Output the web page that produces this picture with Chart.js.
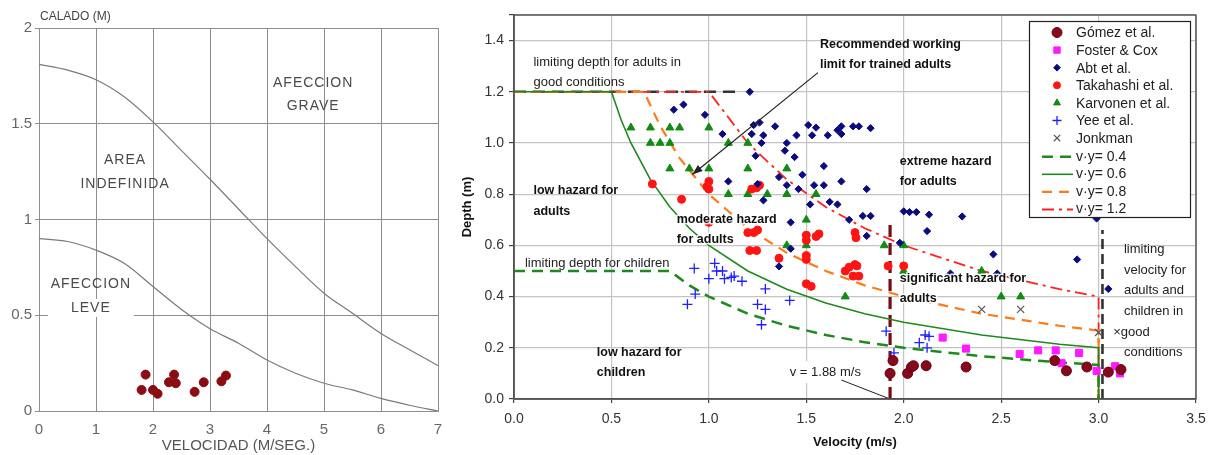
<!DOCTYPE html>
<html>
<head>
<meta charset="utf-8">
<script src="https://cdn.jsdelivr.net/npm/chart.js@4.4.0/dist/chart.umd.min.js"></script>
<style>
  html, body { margin: 0; padding: 0; background: #fff; }
  #wrap { position: relative; width: 1216px; height: 455px; }
  #left-chart { position: absolute; left: 0; top: 0; }
  #right-chart { position: absolute; left: 460px; top: 0; }
</style>
</head>
<body>
<div id="wrap">
  <canvas id="left-chart" width="455" height="455"></canvas>
  <canvas id="right-chart" width="756" height="455"></canvas>
</div>
<script>
// ---- left chart: calado / velocidad ----
const leftVelocity = [0, 0.5, 1, 1.5, 2, 2.5, 3, 3.5, 4, 4.5, 5, 5.5, 6, 6.5, 7];
const severeDepth = [1.81, 1.78, 1.73, 1.64, 1.51, 1.36, 1.21, 1.055, 0.90, 0.754, 0.615, 0.51, 0.405, 0.32, 0.237];
const mildDepth = [0.90, 0.885, 0.84, 0.77, 0.65, 0.53, 0.43, 0.354, 0.266, 0.197, 0.145, 0.11, 0.066, 0.03, 0.0];
const leftDotsV = [1.80, 1.87, 2.00, 2.08, 2.28, 2.37, 2.40, 2.73, 2.89, 3.20, 3.28];
const leftDotsD = [0.11, 0.19, 0.11, 0.09, 0.15, 0.19, 0.145, 0.10, 0.15, 0.155, 0.185];

// ---- right chart: depth / velocity ----
const gomez = [[1.93,0.10],[1.945,0.15],[2.02,0.10],[2.04,0.125],[2.05,0.13],[2.115,0.13],[2.32,0.125],
  [2.775,0.15],[2.835,0.11],[2.94,0.125],[3.05,0.105],[3.115,0.115]];
const fosterCox = [[2.20,0.24],[2.32,0.197],[2.595,0.176],[2.69,0.19],[2.78,0.19],[2.90,0.18],[2.81,0.14],
  [2.99,0.11],[3.085,0.128],[3.11,0.10]];
const abt = [[0.82,1.13],[0.87,1.15],[0.98,1.11],[1.07,1.035],[1.21,1.20],[1.22,1.035],[1.23,1.07],[1.26,1.08],
  [1.27,1.0],[1.28,1.03],[1.24,0.95],[1.34,1.065],[1.40,1.0],[1.39,0.97],[1.44,0.945],[1.45,1.03],[1.51,1.07],
  [1.53,1.03],[1.55,1.06],[1.61,1.03],[1.66,1.05],[1.68,1.065],[1.68,1.035],[1.74,1.065],[1.77,1.065],[1.83,1.058],
  [1.59,0.91],[1.36,0.867],[1.48,0.876],[1.40,0.835],[1.46,0.82],[1.54,0.835],[1.59,0.835],[1.68,0.85],[1.81,0.82],
  [1.10,0.85],[1.25,0.84],[1.28,0.776],[1.52,0.76],[1.62,0.77],[1.66,0.76],[1.42,0.69],[1.72,0.70],[1.79,0.715],
  [1.83,0.715],[2.00,0.733],[2.03,0.73],[2.065,0.73],[2.13,0.72],[2.30,0.713],[2.99,0.705],[2.12,0.656],[1.81,0.637],
  [1.98,0.61],[1.42,0.587],[1.36,0.518],[2.46,0.565],[2.89,0.545],[2.24,0.49],[2.48,0.49],[3.05,0.43]];
const takahashi = [[0.71,0.84],[0.86,0.78],[1.0,0.85],[0.99,0.83],[1.0,0.82],[1.22,0.82],[1.245,0.825],[1.26,0.835],
  [1.0,0.69],[1.20,0.65],[1.23,0.65],[1.25,0.66],[1.21,0.58],[1.245,0.58],[1.5,0.64],[1.5,0.62],[1.55,0.635],
  [1.565,0.645],[1.5,0.56],[1.5,0.545],[1.36,0.55],[1.5,0.45],[1.525,0.44],[1.70,0.50],[1.72,0.515],[1.75,0.525],
  [1.76,0.52],[1.74,0.48],[1.77,0.48],[1.92,0.52],[2.0,0.52],[1.75,0.65],[1.755,0.63]];
const karvonen = [[0.6,1.06],[0.7,1.06],[0.8,1.06],[0.85,1.06],[1.0,1.06],[0.7,1.0],[0.75,1.0],[0.8,1.0],[1.1,1.0],
  [1.2,1.0],[0.8,0.9],[0.9,0.9],[1.0,0.9],[1.2,0.9],[1.4,0.9],[1.1,0.8],[1.2,0.8],[1.3,0.8],[1.4,0.8],[1.55,0.8],
  [1.5,0.7],[1.4,0.6],[1.5,0.6],[1.7,0.4],[1.9,0.6],[2.0,0.6],[2.0,0.5],[2.4,0.5],[2.5,0.4],[2.6,0.4]];
const yee = [[0.89,0.37],[0.925,0.51],[0.93,0.41],[1.0,0.47],[1.03,0.53],[1.04,0.50],[1.07,0.50],[1.08,0.47],
  [1.115,0.475],[1.13,0.48],[1.17,0.46],[1.25,0.37],[1.29,0.43],[1.29,0.35],[1.27,0.29],[1.415,0.385],
  [1.91,0.265],[1.95,0.18],[2.08,0.22],[2.11,0.25],[2.13,0.245],[2.12,0.20]];
const jonkman = [[2.4,0.35],[2.6,0.35],[3.0,0.26]];

// hazard curves v*y = const
const vy04 = [[0,0.5],[0.8,0.5],[0.9,0.444],[1.0,0.4],[1.2,0.333],[1.4,0.286],[1.6,0.25],[1.8,0.222],[2.0,0.2],
  [2.4,0.167],[2.8,0.143],[3.0,0.133],[3.0,0]];
const vy06 = [[0,1.2],[0.5,1.2],[0.55,1.09],[0.6,1.0],[0.7,0.857],[0.8,0.75],[0.9,0.667],[1.0,0.6],[1.2,0.5],
  [1.4,0.429],[1.6,0.375],[1.8,0.333],[2.0,0.3],[2.4,0.25],[2.8,0.214],[3.0,0.2],[3.0,0]];
const vy08 = [[0,1.2],[0.667,1.2],[0.75,1.067],[0.85,0.941],[1.0,0.8],[1.2,0.667],[1.4,0.571],[1.6,0.5],
  [1.8,0.444],[2.0,0.4],[2.4,0.333],[2.8,0.286],[3.0,0.267],[3.0,0]];
const vy12 = [[0,1.2],[1.0,1.2],[1.2,1.0],[1.4,0.857],[1.6,0.75],[1.8,0.667],[2.0,0.6],[2.4,0.5],[2.8,0.429],
  [3.0,0.4],[3.0,0]];
const adultDepthLimit = [[0,1.2],[1.15,1.2]];
const gomezVelLine = [[1.93,0],[1.93,0.68]];
const adultVelLimit = [[3.02,0],[3.02,0.66]];

function pts(list) {
    return list.map(p => ({ x: p[0], y: p[1] }));
}

// text notes placed in data units
const leftNotes = [
    { text: 'AFECCION', v: 4.81, d: 1.714 },
    { text: 'GRAVE', v: 4.81, d: 1.594 },
    { text: 'AREA', v: 1.51, d: 1.31 },
    { text: 'INDEFINIDA', v: 1.51, d: 1.186 },
    { text: 'AFECCION', v: 0.91, d: 0.664 },
    { text: 'LEVE', v: 0.91, d: 0.538, bg: 86 }
];

const rightNotes = [
    { text: 'limiting depth for adults in', v: 0.1, d: 1.315 },
    { text: 'good conditions', v: 0.1, d: 1.235 },
    { text: 'Recommended working', v: 1.57, d: 1.384, bold: true },
    { text: 'limit for trained adults', v: 1.57, d: 1.306, bold: true },
    { text: 'low hazard for', v: 0.1, d: 0.815, bold: true },
    { text: 'adults', v: 0.1, d: 0.733, bold: true },
    { text: 'moderate hazard', v: 0.835, d: 0.702, bold: true, halo: true },
    { text: 'for adults', v: 0.835, d: 0.624, bold: true, halo: true },
    { text: 'extreme hazard', v: 1.98, d: 0.928, bold: true },
    { text: 'for adults', v: 1.98, d: 0.85, bold: true },
    { text: 'limiting depth for children', v: 0.056, d: 0.53 },
    { text: 'significant hazard for', v: 1.98, d: 0.472, bold: true, halo: true },
    { text: 'adults', v: 1.98, d: 0.394, bold: true, halo: true },
    { text: 'low hazard for', v: 0.425, d: 0.183, bold: true },
    { text: 'children', v: 0.425, d: 0.105, bold: true },
    { text: 'v = 1.88 m/s', v: 1.415, d: 0.105, bg: true },
    { text: 'limiting', v: 3.13, d: 0.585 },
    { text: 'velocity for', v: 3.13, d: 0.503 },
    { text: 'adults and', v: 3.13, d: 0.425 },
    { text: 'children in', v: 3.13, d: 0.343 },
    { text: '\u00d7good', v: 3.075, d: 0.261 },
    { text: 'conditions', v: 3.13, d: 0.18 }
];

const arrowFrom = [1.56, 1.275];
const arrowTo = [0.915, 0.877];
const pointerFrom = [1.68, 0.074];
const pointerTo = [1.93, 0.0];

const FONT = '"Liberation Sans", Arial, sans-serif';

const leftNotesPlugin = {
    id: 'leftNotes',
    afterDraw(chart) {
        const ctx = chart.ctx;
        const xs = chart.scales.x, ys = chart.scales.y;
        ctx.save();
        ctx.font = '12px ' + FONT;
        ctx.fillStyle = '#444';
        ctx.textBaseline = 'middle';
        ctx.fillText('CALADO (M)', 40, 17);
        ctx.font = '14px ' + FONT;
        ctx.letterSpacing = '1px';
        ctx.textAlign = 'center';
        leftNotes.forEach(n => {
            const x = xs.getPixelForValue(n.v), y = ys.getPixelForValue(n.d);
            if (n.bg) {
                ctx.fillStyle = '#fff';
                ctx.fillRect(x - n.bg / 2, y - 9, n.bg, 18);
            }
            ctx.fillStyle = '#4a4a4a';
            ctx.fillText(n.text, x, y);
        });
        ctx.restore();
    }
};

new Chart(document.getElementById('left-chart'), {
    type: 'scatter',
    data: {
        datasets: [
            {
                data: leftDotsV.map((v, i) => ({ x: v, y: leftDotsD[i] })),
                backgroundColor: '#8b0d14',
                borderColor: '#8b0d14',
                pointRadius: 4.5
            },
            {
                data: leftVelocity.map((v, i) => ({ x: v, y: severeDepth[i] })),
                showLine: true,
                cubicInterpolationMode: 'monotone',
                borderColor: '#7a7a7a',
                borderWidth: 1.2,
                pointRadius: 0
            },
            {
                data: leftVelocity.map((v, i) => ({ x: v, y: mildDepth[i] })),
                showLine: true,
                cubicInterpolationMode: 'monotone',
                borderColor: '#7a7a7a',
                borderWidth: 1.2,
                pointRadius: 0
            }
        ]
    },
    options: {
        responsive: false,
        animation: false,
        layout: { padding: { top: 28, right: 17, left: 0, bottom: 0 } },
        plugins: { legend: { display: false }, tooltip: { enabled: false } },
        scales: {
            x: {
                type: 'linear', min: 0, max: 7,
                afterFit: s => { s.height = 44; },
                ticks: { stepSize: 1, color: '#666', font: { family: FONT, size: 15 }, padding: 10 },
                grid: { color: '#8e8e8e', lineWidth: 1, drawTicks: false },
                border: { color: '#8e8e8e' },
                title: { display: true, text: 'VELOCIDAD (M/SEG.)', color: '#555',
                         font: { family: FONT, size: 15 }, padding: { top: 0, bottom: 0 } }
            },
            y: {
                min: 0, max: 2,
                afterFit: s => { s.width = 39; },
                ticks: { stepSize: 0.5, color: '#666', font: { family: FONT, size: 15 }, padding: 3,
                         callback: v => String(v) },
                grid: { color: '#8e8e8e', lineWidth: 1, tickLength: 4 },
                border: { color: '#8e8e8e' }
            }
        }
    },
    plugins: [leftNotesPlugin]
});

// ---- right chart plugins ----
const frameNotes = {
    id: 'frameNotes',
    afterDatasetsDraw(chart) {
        const ctx = chart.ctx;
        const xs = chart.scales.x, ys = chart.scales.y;
        const a = chart.chartArea;
        ctx.save();
        // arrow to the recommended working limit
        const x1 = xs.getPixelForValue(arrowFrom[0]), y1 = ys.getPixelForValue(arrowFrom[1]);
        const x2 = xs.getPixelForValue(arrowTo[0]), y2 = ys.getPixelForValue(arrowTo[1]);
        ctx.strokeStyle = '#222';
        ctx.fillStyle = '#222';
        ctx.lineWidth = 1.2;
        ctx.beginPath(); ctx.moveTo(x1, y1); ctx.lineTo(x2, y2); ctx.stroke();
        const ang = Math.atan2(y2 - y1, x2 - x1);
        ctx.beginPath();
        ctx.moveTo(x2, y2);
        ctx.lineTo(x2 - 11 * Math.cos(ang - 0.35), y2 - 11 * Math.sin(ang - 0.35));
        ctx.lineTo(x2 - 11 * Math.cos(ang + 0.35), y2 - 11 * Math.sin(ang + 0.35));
        ctx.closePath(); ctx.fill();
        // text
        ctx.textBaseline = 'middle';
        ctx.textAlign = 'left';
        rightNotes.forEach(n => {
            const x = xs.getPixelForValue(n.v), y = ys.getPixelForValue(n.d);
            ctx.font = (n.bold ? 'bold 12.5px ' : '13px ') + FONT;
            if (n.bg) {
                const w = ctx.measureText(n.text).width;
                ctx.fillStyle = '#fff';
                ctx.fillRect(x - 5, y - 11, w + 10, 22);
            }
            if (n.halo) {
                ctx.strokeStyle = 'rgba(255,255,255,0.85)';
                ctx.lineWidth = 3;
                ctx.lineJoin = 'round';
                ctx.strokeText(n.text, x, y);
            }
            ctx.fillStyle = n.bold ? '#111' : '#222';
            ctx.fillText(n.text, x, y);
        });
        // pointer from the velocity label
        ctx.strokeStyle = '#222';
        ctx.lineWidth = 1;
        ctx.beginPath();
        ctx.moveTo(xs.getPixelForValue(pointerFrom[0]), ys.getPixelForValue(pointerFrom[1]));
        ctx.lineTo(xs.getPixelForValue(pointerTo[0]), ys.getPixelForValue(pointerTo[1]));
        ctx.stroke();
        // frame
        ctx.strokeStyle = '#555';
        ctx.lineWidth = 1.5;
        ctx.strokeRect(a.left, a.top, a.right - a.left, a.bottom - a.top);
        ctx.restore();
    }
};

const boxLegend = {
    id: 'boxLegend',
    afterDraw(chart) {
        const ctx = chart.ctx;
        const left = 569, top = 21, width = 161, height = 196;
        ctx.save();
        ctx.fillStyle = '#fff';
        ctx.fillRect(left, top, width, height);
        ctx.strokeStyle = '#222';
        ctx.lineWidth = 1.2;
        ctx.strokeRect(left + 0.5, top + 0.5, width, height);
        ctx.font = '14px ' + FONT;
        ctx.textBaseline = 'middle';
        let y = top + 11.5;
        chart.data.datasets.forEach(ds => {
            if (!ds.label) return;
            if (ds.showLine) {
                ctx.strokeStyle = ds.borderColor;
                ctx.lineWidth = ds.borderWidth;
                ctx.setLineDash(ds.borderDash || []);
                ctx.beginPath();
                ctx.moveTo(left + 13, y + 1);
                ctx.lineTo(left + 44, y + 1);
                ctx.stroke();
                ctx.setLineDash([]);
            } else {
                ctx.fillStyle = ds.backgroundColor;
                ctx.strokeStyle = ds.borderColor;
                ctx.lineWidth = ds.borderWidth || 1;
                Chart.helpers.drawPoint(ctx, {
                    pointStyle: ds.pointStyle, rotation: 0,
                    radius: ds.legendRadius, borderWidth: ds.borderWidth || 1
                }, left + 28, y);
            }
            ctx.fillStyle = '#222';
            ctx.fillText(ds.label, left + 47, y + 1);
            y += 17.6;
        });
        ctx.restore();
    }
};

function pointSet(label, list, style, color, edge, radius, legendRadius, width) {
    return {
        label, data: pts(list), pointStyle: style,
        backgroundColor: color, borderColor: edge, pointRadius: radius,
        borderWidth: width || 1, legendRadius
    };
}

function lineSet(label, list, color, width, dash) {
    return {
        label, data: pts(list), showLine: true, pointRadius: 0,
        borderColor: color, borderWidth: width, borderDash: dash, tension: 0
    };
}

new Chart(document.getElementById('right-chart'), {
    type: 'scatter',
    data: {
        datasets: [
            pointSet('Gómez et al.', gomez, 'circle', '#840a1c', '#6a0014', 5, 5),
            pointSet('Foster & Cox', fosterCox, 'rect', '#ff1aff', '#ff1aff', 5, 4.5),
            pointSet('Abt et al.', abt, 'rectRot', '#0b0b7d', '#0b0b7d', 3.6, 3.4),
            pointSet('Takahashi et al.', takahashi, 'circle', '#ff1414', '#ff1414', 4, 3.5),
            pointSet('Karvonen et al.', karvonen, 'triangle', '#138a13', '#138a13', 4.6, 4),
            pointSet('Yee et al.', yee, 'cross', '#2020ff', '#2020ff', 5, 4.5, 1.3),
            pointSet('Jonkman', jonkman, 'crossRot', '#555', '#555', 5, 4.5, 1.2),
            lineSet('v\u00b7y= 0.4', vy04, '#1e8a1e', 2.5, [11, 7]),
            lineSet('v\u00b7y= 0.6', vy06, '#1e8a1e', 1.6, []),
            lineSet('v\u00b7y= 0.8', vy08, '#ff7a1a', 2.2, [10, 7]),
            lineSet('v\u00b7y= 1.2', vy12, '#ff2020', 1.8, [12, 5, 3, 5]),
            lineSet('', adultDepthLimit, '#333', 2.5, [12, 7]),
            lineSet('', gomezVelLine, '#7a0a14', 3.2, [12, 6]),
            lineSet('', adultVelLimit, '#333', 2.6, [10, 5])
        ]
    },
    options: {
        responsive: false,
        animation: false,
        layout: { padding: { top: 15, right: 20, left: 0, bottom: 0 } },
        plugins: { legend: { display: false }, tooltip: { enabled: false } },
        scales: {
            x: {
                type: 'linear', min: 0, max: 3.5,
                afterFit: s => { s.height = 56; },
                ticks: { stepSize: 0.5, color: '#333', font: { family: FONT, size: 14 }, padding: 8,
                         callback: v => v.toFixed(1) },
                grid: { color: '#c4c4c4', lineWidth: 1.2, tickLength: 4, tickColor: '#444' },
                border: { color: '#444', width: 1.5 },
                title: { display: true, text: 'Velocity (m/s)', color: '#111',
                         font: { family: FONT, size: 13, weight: 'bold' }, padding: { top: 0, bottom: 5 } }
            },
            y: {
                min: 0, max: 1.5,
                afterFit: s => { s.width = 54; },
                ticks: { stepSize: 0.2, color: '#333', font: { family: FONT, size: 14 }, padding: 5,
                         callback: v => (v > 1.45 ? '' : v.toFixed(1)) },
                grid: { color: '#c4c4c4', lineWidth: 1.2, tickLength: 5, tickColor: '#444' },
                border: { color: '#444', width: 1.5 },
                title: { display: true, text: 'Depth (m)', color: '#111',
                         font: { family: FONT, size: 13, weight: 'bold' }, padding: { top: 0, bottom: 0 } }
            }
        }
    },
    plugins: [frameNotes, boxLegend]
});
</script>
</body>
</html>
